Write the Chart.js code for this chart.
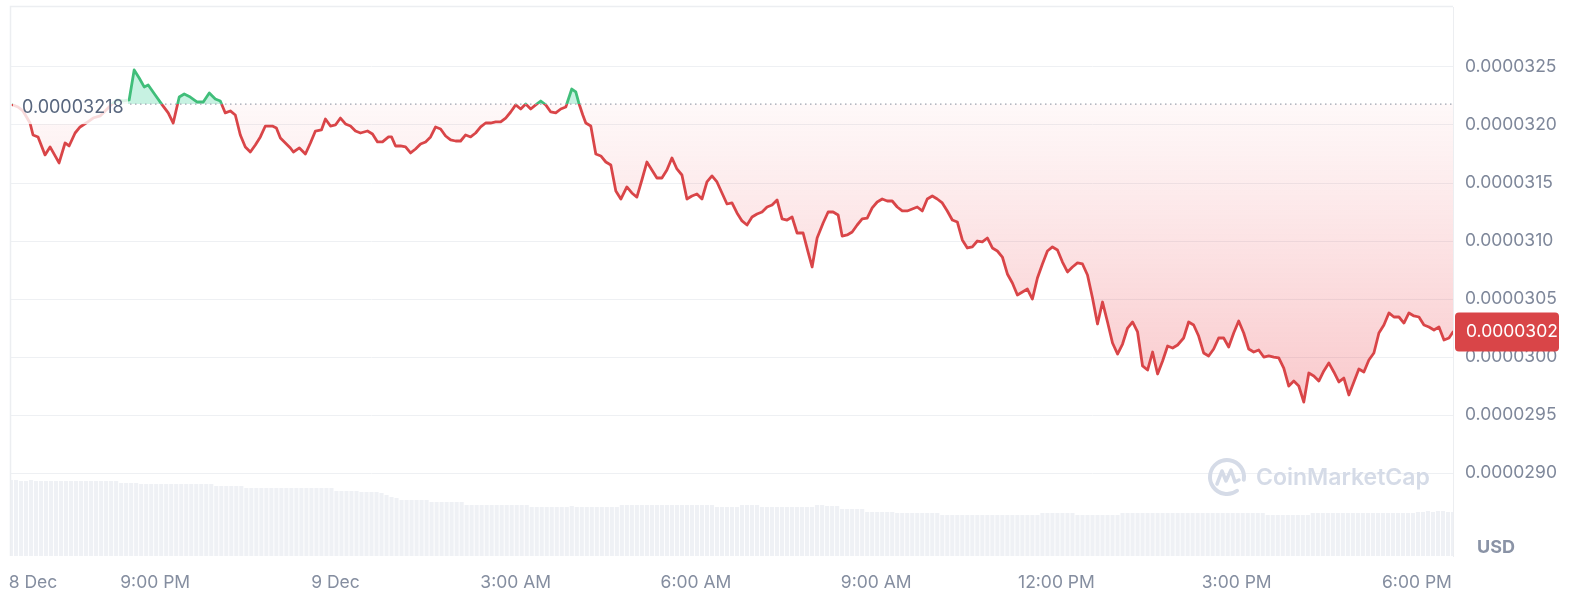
<!DOCTYPE html>
<html>
<head>
<meta charset="utf-8">
<script src="https://cdn.jsdelivr.net/npm/chart.js@4.4.1/dist/chart.umd.min.js"></script>
<style>
  html, body { margin: 0; padding: 0; background: #ffffff; }
  #wrap { width: 1576px; height: 606px; position: relative; }
</style>
</head>
<body>
<div id="wrap"><canvas id="c"></canvas></div>
<script>
// ---- DATA ----
// minutes after 8 Dec 18:36 (24h window)
const priceTimes = [
  2,7,12,19,22,27,34,39,48,54,58,64,69,75,82,89,95,101,106,112,
  118,123,128,133,137,144,151,157,162,168,173,179,186,192,198,204,209,214,219,224,
  229,234,239,244,249,254,261,265,269,274,279,282,288,294,299,304,310,314,319,324,
  329,334,339,344,349,356,361,366,371,377,380,384,389,
  394,399,404,409,414,419,424,429,434,439,444,449,454,459,464,469,474,479,484,489,
  494,499,504,509,514,519,524,529,534,539,544,549,554,560,564,567,571,574,579,584,
  589,594,599,604,609,615,620,625,630,635,640,645,650,655,660,665,670,675,680,685,
  690,695,700,705,710,715,720,725,730,735,740,745,750,755,760,765,770,775,780,785,
  791,796,800,805,811,816,821,826,830,835,840,845,850,855,860,865,870,875,880,885,
  890,895,900,905,910,915,920,925,930,935,940,945,950,955,960,965,970,975,980,985,
  990,995,1000,1005,1010,1015,1020,1025,1030,1035,1040,1045,1050,1055,1060,1065,1070,1075,1080,1085,
  1090,1095,1100,1105,1110,1115,1120,1125,1130,1135,1140,1145,1150,1155,1160,1165,
  1171,1176,1181,1186,1191,1196,1201,1206,1211,1216,1221,1226,1231,1236,1241,1246,1251,1256,1261,1266,
  1271,1276,1281,1286,1291,1296,1301,1306,1311,1316,1321,1326,1331,1336,1341,1346,1351,1356,1361,1366,
  1371,1376,1381,1386,1391,1396,1401,1406,1411,1416,1421,1426,1431,1436,1440
];
// price in USD
const prices = [
  3.2173e-5,3.2155e-5,3.2121e-5,3.2017e-5,3.1914e-5,3.1897e-5,3.1742e-5,3.1811e-5,3.1673e-5,3.1845e-5,
  3.1819e-5,3.1931e-5,3.1983e-5,3.2017e-5,3.2060e-5,3.2078e-5,3.2129e-5,3.2181e-5,3.2216e-5,3.2207e-5,
  3.2216e-5,3.2474e-5,3.2405e-5,3.2328e-5,3.2345e-5,3.2259e-5,3.2173e-5,3.2104e-5,3.2017e-5,3.2241e-5,
  3.2267e-5,3.2241e-5,3.2198e-5,3.2198e-5,3.2276e-5,3.2224e-5,3.2207e-5,3.2104e-5,3.2121e-5,3.2086e-5,
  3.1914e-5,3.1811e-5,3.1767e-5,3.1828e-5,3.1897e-5,3.1991e-5,3.1991e-5,3.1974e-5,3.1888e-5,3.1845e-5,
  3.1802e-5,3.1767e-5,3.1802e-5,3.1750e-5,3.1845e-5,3.1948e-5,3.1957e-5,3.2052e-5,3.1991e-5,3.2000e-5,
  3.2060e-5,3.2009e-5,3.1991e-5,3.1948e-5,3.1931e-5,3.1948e-5,3.1923e-5,3.1854e-5,3.1854e-5,3.1897e-5,
  3.1897e-5,3.1819e-5,3.1819e-5,
  3.1811e-5,3.1759e-5,3.1793e-5,3.1836e-5,3.1854e-5,3.1897e-5,3.1983e-5,3.1966e-5,3.1905e-5,3.1871e-5,
  3.1862e-5,3.1862e-5,3.1914e-5,3.1897e-5,3.1931e-5,3.1983e-5,3.2017e-5,3.2017e-5,3.2026e-5,3.2026e-5,
  3.2060e-5,3.2112e-5,3.2173e-5,3.2138e-5,3.2181e-5,3.2138e-5,3.2173e-5,3.2207e-5,3.2173e-5,3.2112e-5,
  3.2104e-5,3.2138e-5,3.2155e-5,3.2310e-5,3.2285e-5,3.2190e-5,3.2086e-5,3.2017e-5,3.1991e-5,3.1750e-5,
  3.1733e-5,3.1681e-5,3.1655e-5,3.1431e-5,3.1362e-5,3.1466e-5,3.1414e-5,3.1379e-5,3.1526e-5,3.1681e-5,
  3.1612e-5,3.1543e-5,3.1543e-5,3.1612e-5,3.1716e-5,3.1621e-5,3.1569e-5,3.1362e-5,3.1388e-5,3.1405e-5,
  3.1362e-5,3.1509e-5,3.1561e-5,3.1509e-5,3.1414e-5,3.1319e-5,3.1328e-5,3.1242e-5,3.1173e-5,3.1138e-5,
  3.1207e-5,3.1233e-5,3.1250e-5,3.1293e-5,3.1311e-5,3.1354e-5,3.1190e-5,3.1181e-5,3.1207e-5,3.1069e-5,
  3.1069e-5,3.0905e-5,3.0776e-5,3.1026e-5,3.1155e-5,3.1250e-5,3.1250e-5,3.1224e-5,3.1043e-5,3.1052e-5,
  3.1078e-5,3.1138e-5,3.1190e-5,3.1198e-5,3.1285e-5,3.1336e-5,3.1362e-5,3.1345e-5,3.1345e-5,3.1293e-5,
  3.1259e-5,3.1259e-5,3.1276e-5,3.1293e-5,3.1259e-5,3.1362e-5,3.1388e-5,3.1362e-5,3.1328e-5,3.1259e-5,
  3.1181e-5,3.1164e-5,3.1009e-5,3.0940e-5,3.0949e-5,3.1000e-5,3.0992e-5,3.1026e-5,3.0940e-5,3.0914e-5,
  3.0862e-5,3.0716e-5,3.0638e-5,3.0535e-5,3.0561e-5,3.0586e-5,3.0500e-5,3.0681e-5,3.0802e-5,3.0914e-5,
  3.0949e-5,3.0923e-5,3.0819e-5,3.0733e-5,3.0776e-5,3.0811e-5,3.0802e-5,3.0707e-5,3.0509e-5,3.0285e-5,
  3.0474e-5,3.0302e-5,3.0121e-5,3.0026e-5,3.0112e-5,3.0250e-5,3.0302e-5,3.0216e-5,2.9923e-5,2.9888e-5,
  3.0043e-5,2.9854e-5,2.9966e-5,3.0095e-5,3.0078e-5,3.0104e-5,
  3.0164e-5,3.0302e-5,3.0276e-5,3.0181e-5,3.0035e-5,3.0009e-5,3.0069e-5,3.0164e-5,3.0164e-5,3.0086e-5,
  3.0207e-5,3.0311e-5,3.0207e-5,3.0069e-5,3.0043e-5,3.0061e-5,3.0000e-5,3.0009e-5,3.0000e-5,2.9992e-5,
  2.9905e-5,2.9750e-5,2.9793e-5,2.9750e-5,2.9612e-5,2.9862e-5,2.9837e-5,2.9793e-5,2.9880e-5,2.9949e-5,
  2.9871e-5,2.9785e-5,2.9819e-5,2.9673e-5,2.9785e-5,2.9897e-5,2.9871e-5,2.9974e-5,3.0035e-5,3.0207e-5,
  3.0276e-5,3.0380e-5,3.0345e-5,3.0345e-5,3.0293e-5,3.0380e-5,3.0354e-5,3.0345e-5,3.0276e-5,3.0259e-5,
  3.0233e-5,3.0259e-5,3.0147e-5,3.0164e-5,3.0216e-5
];
// traded volume per 5-minute bar (relative units)
const volumeStepMinutes = 5;
const volume = [
  76,76,75,75,76,75,75,75,75,75,75,75,75,75,75,75,75,75,75,75,75,75,
  73,73,73,73,
  72,72,72,72,72,72,72,72,72,72,72,72,72,72,72,
  70,70,70,70,70,70,
  68,68,68,68,68,68,68,68,68,68,68,68,68,68,68,68,68,68,
  65,65,65,65,65,
  64,64,64,64,63,
  61,59,58,
  56,56,56,56,56,56,
  54,54,54,54,54,54,54,
  51,51,51,51,51,51,51,51,51,51,51,51,51,
  49,49,49,49,49,49,49,49,50,49,49,49,49,49,49,49,49,49,
  51,51,51,51,51,51,51,51,51,51,51,51,51,51,51,51,51,51,51,
  49,49,49,49,49,
  51,51,51,51,
  49,49,49,49,49,49,49,49,49,49,49,
  51,51,50,50,50,
  47,47,47,47,47,
  44,44,44,44,44,44,
  43,43,43,43,43,43,43,43,43,
  41,41,41,41,41,41,41,41,41,41,41,41,41,41,41,41,41,41,41,41,
  43,43,43,43,43,43,43,
  41,41,41,41,41,41,41,41,41,
  43,43,43,43,43,43,43,43,43,43,43,43,43,43,43,43,43,43,43,43,43,43,43,43,43,43,43,43,43,
  41,41,41,41,41,41,41,41,41,
  43,43,43,43,43,43,43,43,43,43,43,43,43,43,43,43,43,43,43,43,43,
  44,44,45,44,45,45,44,44
];
const openPrice = 0.00003218;
const yTickValues = [0.0000290, 0.0000295, 0.0000300, 0.0000305, 0.0000310, 0.0000315, 0.0000320, 0.0000325];
const xTickMinutes = [22, 144, 324, 504, 684, 864, 1044, 1224, 1404];
const xTickLabels = ['8 Dec', '9:00 PM', '9 Dec', '3:00 AM', '6:00 AM', '9:00 AM', '12:00 PM', '3:00 PM', '6:00 PM'];

// ---- STYLE ----
const RED = 'rgb(217,69,72)';
const GREEN = 'rgb(64,190,122)';
const FONT = 'Inter, "Noto Sans", sans-serif';

function baseFrac(chart) {
  const a = chart.chartArea;
  const by = chart.scales.y.getPixelForValue(openPrice);
  return Math.min(1, Math.max(0, (by - a.top) / (a.bottom - a.top)));
}
function lineColor(context) {
  const chart = context.chart;
  const a = chart.chartArea;
  if (!a) return RED;
  const g = chart.ctx.createLinearGradient(0, a.top, 0, a.bottom);
  const f = baseFrac(chart);
  g.addColorStop(0, GREEN); g.addColorStop(f, GREEN);
  g.addColorStop(f, RED); g.addColorStop(1, RED);
  return g;
}
function fillOption(context) {
  const chart = context.chart;
  const a = chart.chartArea;
  let below = 'rgba(234,57,67,0.12)';
  if (a) {
    const y = chart.scales.y;
    const y0 = y.getPixelForValue(openPrice);
    const y1 = y.getPixelForValue(0.0000296);
    const g = chart.ctx.createLinearGradient(0, y0, 0, y1);
    g.addColorStop(0, 'rgba(234,57,67,0.03)');
    g.addColorStop(1, 'rgba(234,57,67,0.27)');
    below = g;
  }
  return { target: { value: openPrice }, above: 'rgba(22,199,132,0.24)', below: below };
}

const overlay = {
  id: 'overlay',
  beforeDatasetsDraw(chart) {
    const ctx = chart.ctx;
    ctx.save();
    // watermark
    const col = '#d5dbe7';
    const cx = 1227, cy = 477, r = 17;
    ctx.strokeStyle = col; ctx.lineWidth = 4; ctx.lineCap = 'round'; ctx.lineJoin = 'round';
    ctx.beginPath(); ctx.arc(cx, cy, r, 0.3 * Math.PI, 2.05 * Math.PI); ctx.stroke();
    ctx.lineWidth = 3.5;
    ctx.beginPath();
    ctx.moveTo(cx - 10, cy + 7); ctx.lineTo(cx - 5, cy - 6); ctx.lineTo(cx - 1, cy + 4);
    ctx.lineTo(cx + 4, cy - 7); ctx.lineTo(cx + 8, cy + 5); ctx.lineTo(cx + 12, cy + 3);
    ctx.stroke();
    ctx.fillStyle = col; ctx.font = '600 23px ' + FONT;
    ctx.textAlign = 'left'; ctx.textBaseline = 'middle';
    ctx.fillText('CoinMarketCap', 1256, 478);
    ctx.restore();
  },
  afterDatasetsDraw(chart) {
    const ctx = chart.ctx, a = chart.chartArea;
    const by = chart.scales.y.getPixelForValue(openPrice);
    ctx.save();
    // frame
    ctx.strokeStyle = '#eceef1'; ctx.lineWidth = 1.5;
    ctx.beginPath();
    ctx.moveTo(a.left - 0.5, a.bottom); ctx.lineTo(a.left - 0.5, a.top - 0.5); ctx.lineTo(a.right, a.top - 0.5);
    ctx.stroke();
    // dotted open-price line
    ctx.strokeStyle = '#9ea4b0'; ctx.lineWidth = 1.3; ctx.setLineDash([1.5, 3.5]);
    ctx.beginPath(); ctx.moveTo(a.left + 119, by); ctx.lineTo(a.right, by); ctx.stroke();
    ctx.setLineDash([]);
    // open price label
    const ty = by + 3;
    ctx.fillStyle = 'rgba(255,255,255,0.8)';
    ctx.fillRect(a.left + 2, ty - 16, 115, 33);
    ctx.font = '18px ' + FONT; ctx.fillStyle = '#58667e';
    ctx.textAlign = 'left'; ctx.textBaseline = 'middle';
    ctx.fillText(openPrice.toFixed(8), a.left + 11, ty);
    ctx.restore();
  },
  afterDraw(chart) {
    const ctx = chart.ctx, a = chart.chartArea;
    const last = prices[prices.length - 1];
    const ly = chart.scales.y.getPixelForValue(last);
    ctx.save();
    // current price badge
    ctx.fillStyle = RED;
    ctx.beginPath();
    ctx.roundRect(a.right + 2, ly - 19.5, 104, 39, 4);
    ctx.fill();
    ctx.fillStyle = '#ffffff'; ctx.font = '17.5px ' + FONT;
    ctx.textAlign = 'left'; ctx.textBaseline = 'middle';
    ctx.fillText(last.toFixed(7), a.right + 13, ly);
    // currency
    ctx.fillStyle = '#8a93a6'; ctx.font = '700 18px ' + FONT;
    ctx.fillText('USD', a.right + 24, 548);
    ctx.restore();
  }
};

new Chart(document.getElementById('c'), {
  type: 'line',
  data: {
    datasets: [
      {
        type: 'line',
        label: 'Price',
        data: priceTimes.map((t, i) => ({ x: t, y: prices[i] })),
        yAxisID: 'y',
        order: 1,
        borderWidth: 2.8,
        borderColor: lineColor,
        borderJoinStyle: 'round',
        borderCapStyle: 'round',
        pointRadius: 0,
        tension: 0,
        fill: fillOption
      },
      {
        type: 'bar',
        label: 'Volume',
        data: volume.map((v, i) => ({ x: i * volumeStepMinutes, y: v })),
        yAxisID: 'yVol',
        order: 2,
        backgroundColor: '#eff1f5',
        borderWidth: 0,
        barPercentage: 0.82,
        categoryPercentage: 1
      }
    ]
  },
  options: {
    responsive: true,
    maintainAspectRatio: false,
    animation: false,
    events: [],
    layout: { padding: { top: 7, left: 11, right: 0, bottom: 0 } },
    plugins: { legend: { display: false }, tooltip: { enabled: false } },
    scales: {
      x: {
        type: 'linear', min: 0, max: 1440, offset: false,
        grid: { display: false }, border: { display: false },
        ticks: {
          autoSkip: false, maxRotation: 0, minRotation: 0, padding: 8,
          color: '#858ea0', font: { family: FONT, size: 17.5 },
          callback: (v) => { const k = xTickMinutes.indexOf(v); return k >= 0 ? xTickLabels[k] : ''; }
        },
        afterBuildTicks: (s) => { s.ticks = xTickMinutes.map(v => ({ value: v })); },
        afterFit: (s) => { s.height = 50; s.paddingLeft = 0; s.paddingRight = 0; }
      },
      y: {
        position: 'right', min: 0.000028285, max: 0.000033017,
        grid: { color: '#eef0f3', drawTicks: false },
        border: { display: true, color: '#eceef1' },
        ticks: {
          padding: 12, color: '#7e879a', font: { family: FONT, size: 17.5 },
          callback: (v) => Number(v).toFixed(7)
        },
        afterBuildTicks: (s) => { s.ticks = yTickValues.map(v => ({ value: v })); },
        afterFit: (s) => { s.width = 123; s.paddingTop = 0; s.paddingBottom = 0; }
      },
      yVol: { display: false, min: 0, max: 549 }
    }
  },
  plugins: [overlay]
});
</script>
</body>
</html>
